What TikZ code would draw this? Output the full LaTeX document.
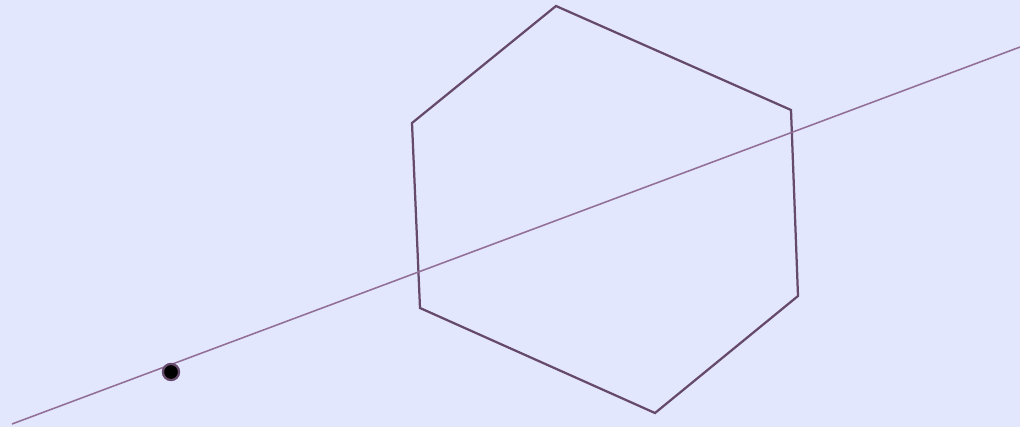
\documentclass[tikz,border=0pt]{standalone}
\definecolor{bgblue}{RGB}{227,231,253}
\definecolor{hexpurple}{RGB}{102,74,108}
\definecolor{linepurple}{RGB}{146,110,152}
\usepackage{tikz}

\begin{document}
\begin{tikzpicture}[x=0.025cm,y=-0.025cm,
    hexline/.style={draw=hexpurple,line width=1.6pt,line join=miter},
    thinline/.style={draw=linepurple,line width=1.1pt},
    pointdot/.style={circle,fill=black,draw=hexpurple,line width=1.6pt,inner sep=0pt,minimum size=11.5pt}]
  % background
  \fill[bgblue] (0,0) rectangle (1020,427);
  \useasboundingbox (0,0) rectangle (1020,427);

  % hexagon corners
  \coordinate (h1) at (556,6);
  \coordinate (h2) at (791,110);
  \coordinate (h3) at (798,296);
  \coordinate (h4) at (655,413);
  \coordinate (h5) at (420,308);
  \coordinate (h6) at (412,123);
  \draw[hexline] (h1) -- (h2) -- (h3) -- (h4) -- (h5) -- (h6) -- cycle;

  % line
  \coordinate (lstart) at (12,424);
  \coordinate (lend) at (1022,46.3);
  \draw[thinline] (lstart) -- (lend);

  % point
  \node[pointdot] (pt) at (171,372) {};
\end{tikzpicture}
\end{document}
